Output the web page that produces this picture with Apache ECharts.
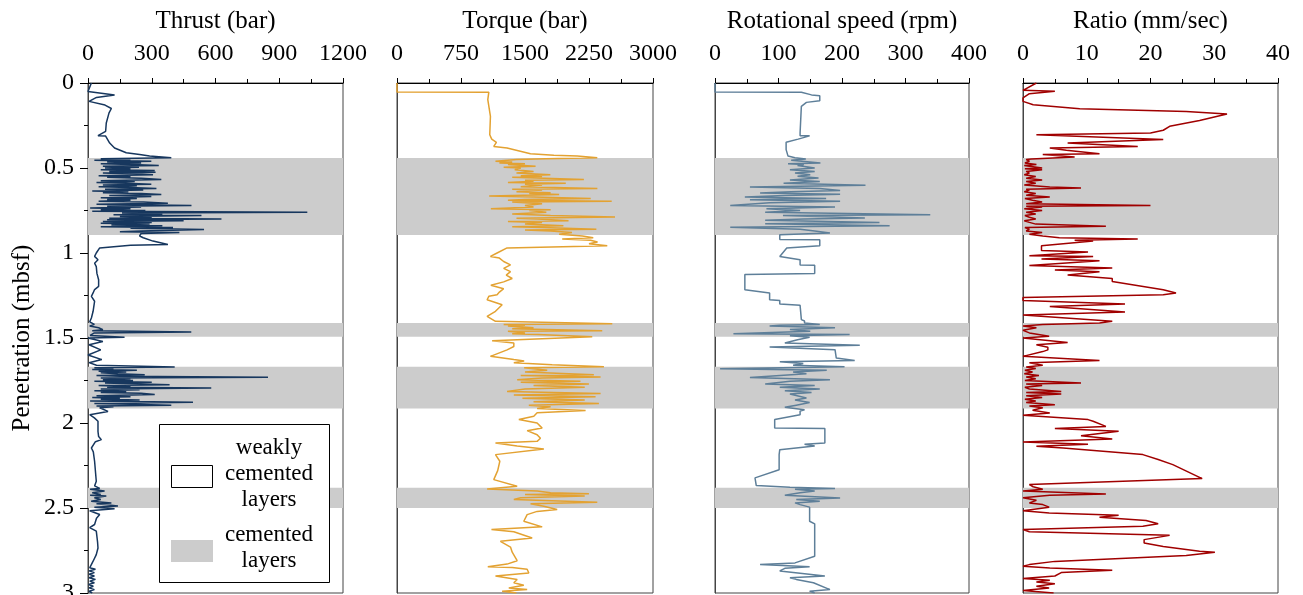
<!DOCTYPE html>
<html>
<head>
<meta charset="utf-8">
<script src="https://cdn.jsdelivr.net/npm/echarts@6/dist/echarts.min.js"></script>
<style>html,body{margin:0;padding:0;background:#fff}#c{width:1303px;height:595px}</style>
</head>
<body>
<div id="c"></div>
<script>
// ---- data: [depth (mbsf), value] ----
const bands = [[0.441, 0.894], [1.412, 1.493], [1.669, 1.914], [2.381, 2.50]];
const depthTicks = [0, 0.5, 1, 1.5, 2, 2.5, 3];

const thrustLog = [
[0,16],[0.05,0],[0.07,125],[0.085,40],[0.108,5],[0.13,80],[0.15,110],[0.176,99],[0.235,86],[0.284,83],[0.31,47],[0.312,83],[0.353,102],[0.382,125],[0.41,180],[0.42,243],[0.43,290],[0.44,392],
[0.445,60],[0.45,200],[0.455,30],[0.46,298],[0.465,90],[0.47,250],[0.475,60],[0.48,210],[0.485,333],[0.49,70],[0.495,240],[0.50,80],[0.505,200],[0.51,60],[0.515,314],[0.52,100],[0.525,318],[0.53,70],[0.535,230],[0.54,306],[0.545,50],[0.55,200],[0.555,90],[0.56,250],[0.567,345],[0.575,60],[0.58,220],[0.585,40],[0.59,180],[0.596,298],[0.60,70],[0.605,230],[0.61,50],[0.615,200],[0.62,322],[0.625,80],[0.63,260],[0.635,20],[0.64,190],[0.645,70],[0.65,250],[0.656,345],[0.662,100],[0.668,298],[0.675,60],[0.68,230],[0.685,90],[0.69,200],[0.695,50],[0.70,260],[0.707,376],[0.713,40],[0.72,487],[0.725,90],[0.73,250],[0.735,10],[0.74,200],[0.745,60],[0.75,270],[0.755,20],[0.76,1032],[0.765,160],[0.77,350],[0.775,120],[0.78,534],[0.785,150],[0.79,300],[0.795,100],[0.80,628],[0.805,90],[0.81,450],[0.815,70],[0.82,300],[0.825,60],[0.83,290],[0.835,110],[0.84,350],[0.845,60],[0.85,400],[0.855,200],[0.862,546],[0.87,250],[0.875,150],[0.88,430],[0.885,250],[0.89,243],
[0.90,243],[0.91,260],[0.93,306],[0.95,376],[0.955,200],[0.97,55],[0.98,47],[1.0,39],[1.02,31],[1.04,47],[1.06,31],[1.08,39],[1.12,42],[1.157,50],[1.196,50],[1.215,31],[1.235,24],[1.255,16],[1.284,31],[1.343,24],[1.382,16],[1.405,8],[1.42,30],[1.43,8],[1.44,50],[1.451,70],[1.458,20],[1.465,486],[1.47,30],[1.477,39],[1.485,10],[1.496,172],[1.50,0],[1.52,70],[1.54,5],[1.57,60],[1.6,0],[1.627,65],[1.645,5],[1.66,40],
[1.67,408],[1.675,30],[1.68,120],[1.685,20],[1.69,230],[1.695,50],[1.70,180],[1.705,60],[1.71,140],[1.716,267],[1.72,40],[1.725,150],[1.731,847],[1.736,60],[1.74,200],[1.745,70],[1.75,212],[1.755,30],[1.76,300],[1.765,80],[1.77,250],[1.775,384],[1.78,50],[1.785,200],[1.79,90],[1.794,580],[1.80,60],[1.805,243],[1.81,30],[1.815,180],[1.82,60],[1.825,250],[1.833,314],[1.84,40],[1.845,200],[1.85,20],[1.855,150],[1.86,60],[1.865,243],[1.87,10],[1.878,494],[1.885,30],[1.89,200],[1.896,392],[1.90,40],[1.905,120],[1.91,55],
[1.932,94],[1.951,8],[1.97,30],[1.99,47],[2.05,47],[2.08,50],[2.098,63],[2.11,35],[2.147,16],[2.17,25],[2.225,31],[2.343,39],[2.37,31],[2.385,55],[2.39,10],[2.40,78],[2.41,20],[2.42,60],[2.425,10],[2.43,86],[2.44,30],[2.45,60],[2.46,15],[2.47,110],[2.475,40],[2.488,141],[2.495,30],[2.505,125],[2.516,8],[2.538,55],[2.56,40],[2.597,31],[2.615,8],[2.636,39],[2.7,45],[2.735,47],[2.774,39],[2.813,24],[2.852,8],[2.86,35],[2.87,5],[2.88,30],[2.89,5],[2.9,30],[2.91,5],[2.92,35],[2.93,8],[2.94,30],[2.95,3],[2.96,25],[2.97,5],[2.98,30],[2.99,5],[3.0,20]
];

const torqueLog = [
[0,0],[0.053,0],[0.054,1076],[0.098,1064],[0.196,1095],[0.304,1087],[0.33,1110],[0.349,1165],[0.373,1134],[0.382,1290],[0.416,1564],[0.425,1838],[0.43,2112],[0.44,2347],
[0.445,1741],[0.45,1400],[0.46,1154],[0.465,1350],[0.47,1200],[0.475,1500],[0.48,1300],[0.49,1624],[0.495,1250],[0.50,1450],[0.51,1380],[0.52,1600],[0.53,1400],[0.54,1797],[0.545,1450],[0.55,1700],[0.555,1350],[0.567,2190],[0.572,1500],[0.578,1600],[0.585,1300],[0.59,1978],[0.595,1500],[0.60,1700],[0.61,1450],[0.62,2348],[0.625,1350],[0.63,1700],[0.64,1400],[0.645,1800],[0.65,1550],[0.656,1900],[0.664,1080],[0.67,1600],[0.68,2270],[0.685,1500],[0.69,1300],[0.696,2516],[0.70,1350],[0.71,1700],[0.72,1500],[0.73,1600],[0.74,1100],[0.745,1800],[0.75,1550],[0.76,1750],[0.77,1350],[0.78,1800],[0.788,2555],[0.795,1400],[0.80,1650],[0.81,2010],[0.815,1300],[0.82,1700],[0.83,1500],[0.84,1950],[0.845,1350],[0.85,1700],[0.86,2336],[0.865,1500],[0.87,1800],[0.88,2050],[0.89,1900],
[0.90,2172],[0.91,2300],[0.918,1936],[0.925,2268],[0.935,2350],[0.945,2250],[0.957,2464],[0.97,1290],[1.0,1173],[1.02,1095],[1.03,1200],[1.05,1250],[1.07,1330],[1.09,1250],[1.11,1330],[1.13,1280],[1.15,1350],[1.17,1250],[1.19,1100],[1.21,1250],[1.23,1200],[1.245,1173],[1.255,1076],[1.275,1056],[1.304,1232],[1.343,1154],[1.373,1056],[1.402,1154],
[1.416,2523],[1.42,1250],[1.425,1500],[1.43,1300],[1.44,1600],[1.445,1350],[1.457,2405],[1.46,1300],[1.47,1500],[1.475,1350],[1.48,1650],[1.492,2288],[1.516,1115],[1.53,1369],[1.55,1369],[1.57,1290],[1.608,1095],[1.627,1369],[1.635,1490],[1.645,1369],[1.657,1818],
[1.669,2425],[1.675,1490],[1.69,1760],[1.70,1500],[1.716,2307],[1.72,1450],[1.73,2386],[1.735,1700],[1.745,1408],[1.755,2150],[1.76,1450],[1.77,2249],[1.78,1600],[1.79,2200],[1.80,1500],[1.814,1290],[1.826,2386],[1.835,1369],[1.845,2327],[1.855,1470],[1.865,2200],[1.875,1600],[1.886,2366],[1.895,1545],[1.905,1800],[1.915,1642],[1.927,2210],[1.94,1642],[1.96,1603],[1.98,1428],[2.0,1642],[2.03,1701],[2.045,1525],[2.069,1642],[2.09,1681],[2.108,1642],[2.118,1154],[2.135,1408],[2.153,1721],[2.186,1154],[2.225,1205],[2.28,1180],[2.333,1134],[2.372,1408],[2.388,1056],[2.40,1642],
[2.41,1800],[2.416,2249],[2.42,1500],[2.43,2200],[2.44,1450],[2.45,1369],[2.466,2347],[2.475,1565],[2.49,1720],[2.509,1877],[2.52,1642],[2.539,1525],[2.578,1486],[2.611,1701],[2.627,1107],[2.64,1369],[2.676,1584],[2.696,1212],[2.73,1330],[2.76,1350],[2.81,1408],[2.83,1290],[2.845,1064],[2.85,1350],[2.86,1525],[2.882,1545],[2.9,1154],[2.92,1408],[2.94,1369],[2.955,1486],[2.97,1310],[2.98,1525],[2.99,1232],[3.0,1400]
];

const speedLog = [
[0,0],[0.053,0],[0.054,136],[0.07,152],[0.075,165],[0.104,165],[0.114,144],[0.137,136],[0.294,134],[0.31,134],[0.311,149],[0.33,131],[0.349,112],[0.392,112],[0.40,115],[0.43,115],[0.44,126],
[0.447,143],[0.455,120],[0.47,166],[0.475,115],[0.48,140],[0.485,130],[0.50,157],[0.51,118],[0.52,157],[0.53,126],[0.54,150],[0.549,130],[0.559,163],[0.57,118],[0.58,165],[0.59,108],[0.602,237],[0.612,55],[0.62,165],[0.633,197],[0.64,120],[0.647,71],[0.655,197],[0.662,110],[0.67,47],[0.68,175],[0.687,55],[0.695,197],[0.705,86],[0.72,24],[0.73,189],[0.74,81],[0.75,134],[0.76,79],[0.775,339],[0.78,107],[0.794,236],[0.80,140],[0.807,79],[0.82,259],[0.828,79],[0.84,275],[0.849,24],[0.86,134],[0.87,157],[0.882,181],[0.892,102],
[0.92,102],[0.922,165],[0.957,165],[0.97,113],[1.02,102],[1.04,134],[1.07,134],[1.072,157],[1.12,157],[1.127,47],[1.216,47],[1.235,86],[1.275,86],[1.28,102],[1.30,102],[1.308,134],[1.392,136],[1.40,141],[1.412,141],
[1.42,165],[1.425,102],[1.43,86],[1.44,189],[1.45,118],[1.46,150],[1.475,29],[1.48,212],[1.487,118],[1.495,149],
[1.51,130],[1.529,110],[1.543,228],[1.553,86],[1.569,189],[1.618,191],[1.632,220],[1.64,102],[1.65,139],[1.66,123],[1.669,204],[1.681,8],[1.69,176],[1.70,123],[1.71,144],[1.732,55],[1.745,181],[1.755,118],[1.77,79],[1.78,157],[1.79,102],[1.80,165],[1.81,110],[1.82,152],[1.83,118],[1.853,144],[1.865,126],[1.88,149],[1.895,128],[1.908,110],[1.922,141],[1.93,134],[1.951,134],[1.98,94],[2.03,94],[2.032,173],[2.118,173],[2.125,141],[2.135,157],[2.157,102],[2.186,101],[2.275,101],[2.323,63],[2.368,65],[2.378,118],
[2.385,189],[2.39,126],[2.40,157],[2.41,134],[2.425,110],[2.441,197],[2.45,128],[2.46,165],[2.47,126],[2.48,134],[2.495,149],[2.578,149],[2.593,157],[2.784,157],[2.823,126],[2.833,71],[2.845,149],[2.855,110],[2.87,102],[2.88,105],[2.9,173],[2.91,118],[2.92,128],[2.94,155],[2.98,181],[2.99,149],[3.0,157]
];

const ratioLog = [
[0,2.1],[0.043,0],[0.049,5],[0.063,1],[0.088,0],[0.108,0],[0.128,1.6],[0.151,8.9],[0.167,25.6],[0.182,32],[0.22,27.7],[0.255,23],[0.278,22],[0.294,20],[0.304,2.1],[0.333,22],[0.353,7],[0.373,18],[0.382,4.2],[0.396,6.8],[0.416,12],[0.42,3.1],[0.435,8.1],[0.447,1.3],
[0.45,0.5],[0.46,1],[0.47,0.3],[0.48,2.1],[0.485,0.2],[0.49,1],[0.50,3],[0.505,0.3],[0.51,3],[0.52,0.5],[0.53,1],[0.54,0.2],[0.55,2],[0.56,0.5],[0.57,3],[0.58,0.5],[0.59,2],[0.60,0.2],[0.612,4.2],[0.618,9.1],[0.625,0.5],[0.63,1],[0.64,0.2],[0.65,2],[0.66,0.5],[0.67,4.2],[0.68,0.3],[0.69,1.5],[0.70,3],[0.71,0.5],[0.72,20],[0.725,0.5],[0.73,3],[0.74,0.2],[0.75,3],[0.76,0.5],[0.77,2],[0.78,0.3],[0.79,1],[0.80,2],[0.81,0.2],[0.82,1],[0.83,2],[0.843,13],[0.85,0.3],[0.86,1],[0.87,0.5],[0.88,3],[0.89,1],
[0.90,3.1],[0.91,5.7],[0.918,18],[0.925,8.1],[0.93,11],[0.957,2.9],[0.985,2.9],[0.994,10.2],[1.016,1],[1.02,11],[1.035,2.9],[1.045,12],[1.073,1],[1.088,14],[1.10,5],[1.11,12],[1.129,7],[1.15,14],[1.167,14],[1.216,22],[1.235,24],[1.245,22],[1.262,0],[1.28,0],[1.30,16],[1.314,4.2],[1.347,16],[1.365,0],[1.402,14],[1.412,12],
[1.42,3.1],[1.43,0],[1.44,2.1],[1.455,0],[1.47,1],[1.49,4.1],[1.50,0],[1.526,7],[1.54,2.1],[1.555,3.9],[1.57,3.9],[1.58,3.1],[1.608,0],[1.632,12],[1.645,1],[1.66,3.1],
[1.67,0.5],[1.68,2],[1.69,0.3],[1.70,1.5],[1.71,0.2],[1.72,2.5],[1.73,0.5],[1.74,2],[1.75,0.3],[1.765,9.1],[1.77,0.5],[1.78,3],[1.79,0.3],[1.80,1],[1.814,6],[1.82,0.5],[1.83,6],[1.84,0.5],[1.85,3],[1.86,0.3],[1.87,2],[1.88,0.5],[1.892,5],[1.90,1],[1.91,3.1],[1.925,1.5],[1.941,4.2],[1.955,0],
[1.98,10.2],[1.99,11],[2.02,13],[2.033,5],[2.049,15],[2.075,9.1],[2.094,14],[2.112,0],[2.125,10.2],[2.137,2.1],[2.147,6.3],[2.186,18.8],[2.215,21.2],[2.245,23.5],[2.327,28.1],[2.362,1],[2.375,1.6],
[2.39,3.1],[2.40,0],[2.418,13],[2.425,4.2],[2.44,0],[2.455,2.1],[2.47,1],[2.48,3.1],[2.495,4.1],[2.516,0],[2.53,4.1],[2.543,15],[2.555,12],[2.573,19.3],[2.593,21.2],[2.607,18.8],[2.627,0],[2.64,1],[2.661,23],[2.686,19],[2.706,19],[2.726,22],[2.755,27.7],[2.761,30.1],[2.78,25.6],[2.814,5],[2.833,1],[2.843,0],[2.853,4.2],[2.866,14],[2.88,6],[2.9,5],[2.915,0],[2.925,4.2],[2.935,2.1],[2.945,5],[2.96,2.1],[2.97,4.1],[2.985,0],[3.0,4.8]
];

const panels = [
  { title: 'Thrust (bar)', max: 1200, interval: 300, color: '#17375e', log: thrustLog },
  { title: 'Torque (bar)', max: 3000, interval: 750, color: '#e3a232', log: torqueLog },
  { title: 'Rotational speed (rpm)', max: 400, interval: 100, color: '#5e7f99', log: speedLog },
  { title: 'Ratio (mm/sec)', max: 40, interval: 10, color: '#a00000', log: ratioLog }
];
const legendLabels = [['weakly', 'cemented', 'layers'], ['cemented', 'layers']];

// ---- layout ----
const gridLefts = [88, 397, 715, 1023];
const gridWidths = [255, 256, 254, 255];
const FONT = 'Liberation Serif, Times New Roman, serif';

const chart = echarts.init(document.getElementById('c'), null, { renderer: 'canvas' });

const grids = panels.map((p, i) => ({
  left: gridLefts[i], width: gridWidths[i], top: 83, height: 510,
  outerBoundsMode: 'none', containLabel: false,
  show: true, borderColor: '#444', borderWidth: 1, backgroundColor: 'transparent'
}));

const xAxes = panels.map((p, i) => ({
  type: 'value', gridIndex: i, position: 'top', min: 0, max: p.max, interval: p.interval,
  name: p.title, nameLocation: 'middle', nameGap: 49,
  nameTextStyle: { fontFamily: FONT, fontSize: 25, color: '#000' },
  axisLine: { show: true, lineStyle: { color: '#000', width: 1 } },
  axisTick: { show: true, inside: false, length: 5, lineStyle: { color: '#000' } },
  minorTick: { show: true, splitNumber: 2, length: 4, lineStyle: { color: '#000' } },
  splitLine: { show: false },
  axisLabel: { fontFamily: FONT, fontSize: 24, color: '#000', margin: 17,
    formatter: v => String(v) }
}));

const yAxes = panels.map((p, i) => {
  const first = i === 0;
  return {
    type: 'value', gridIndex: i, inverse: true, min: 0, max: 3, interval: 0.5,
    name: first ? 'Penetration (mbsf)' : '', nameLocation: 'middle', nameGap: 53, nameRotate: 90,
    nameTextStyle: { fontFamily: FONT, fontSize: 25, color: '#000' },
    axisLine: { show: true, lineStyle: { color: '#444', width: 1 } },
    axisTick: { show: first, inside: false, length: 8, lineStyle: { color: '#000' } },
    minorTick: { show: first, splitNumber: 2, length: 4, lineStyle: { color: '#000' } },
    splitLine: { show: false },
    axisLabel: { show: first, fontFamily: FONT, fontSize: 24, color: '#000', margin: 14,
      formatter: v => (depthTicks.indexOf(v) >= 0 ? String(v) : '') }
  };
});

const series = panels.map((p, i) => ({
  type: 'line', xAxisIndex: i, yAxisIndex: i, showSymbol: false, symbol: 'none',
  animation: false, clip: true, z: 3,
  lineStyle: { color: p.color, width: 1.5 },
  data: p.log.map(r => [r[1], r[0]]),
  markArea: {
    silent: true, itemStyle: { color: '#cccccc', opacity: 1 },
    data: bands.map(b => [{ yAxis: b[0] }, { yAxis: b[1] }])
  }
}));

const graphics = [
  { type: 'rect', shape: { x: 159.5, y: 424.5, width: 170, height: 158 }, style: { fill: '#fff', stroke: '#000', lineWidth: 1 }, z: 10 },
  { type: 'rect', shape: { x: 171.5, y: 465.5, width: 41, height: 22 }, style: { fill: '#fff', stroke: '#000', lineWidth: 1 }, z: 11 },
  { type: 'rect', shape: { x: 171, y: 540, width: 42, height: 22 }, style: { fill: '#cccccc' }, z: 11 }
];
const legendY = [[448, 474, 499.5], [535, 560.5]];
legendLabels.forEach((lines, g) => lines.forEach((t, k) => {
  graphics.push({ type: 'text', x: 269, y: legendY[g][k], z: 12,
    style: { text: t, fontFamily: FONT, fontSize: 23, fill: '#000', textAlign: 'center', textVerticalAlign: 'middle' } });
}));

chart.setOption({
  backgroundColor: '#fff',
  animation: false,
  grid: grids, xAxis: xAxes, yAxis: yAxes, series: series,
  graphic: graphics
});
</script>
</body>
</html>
